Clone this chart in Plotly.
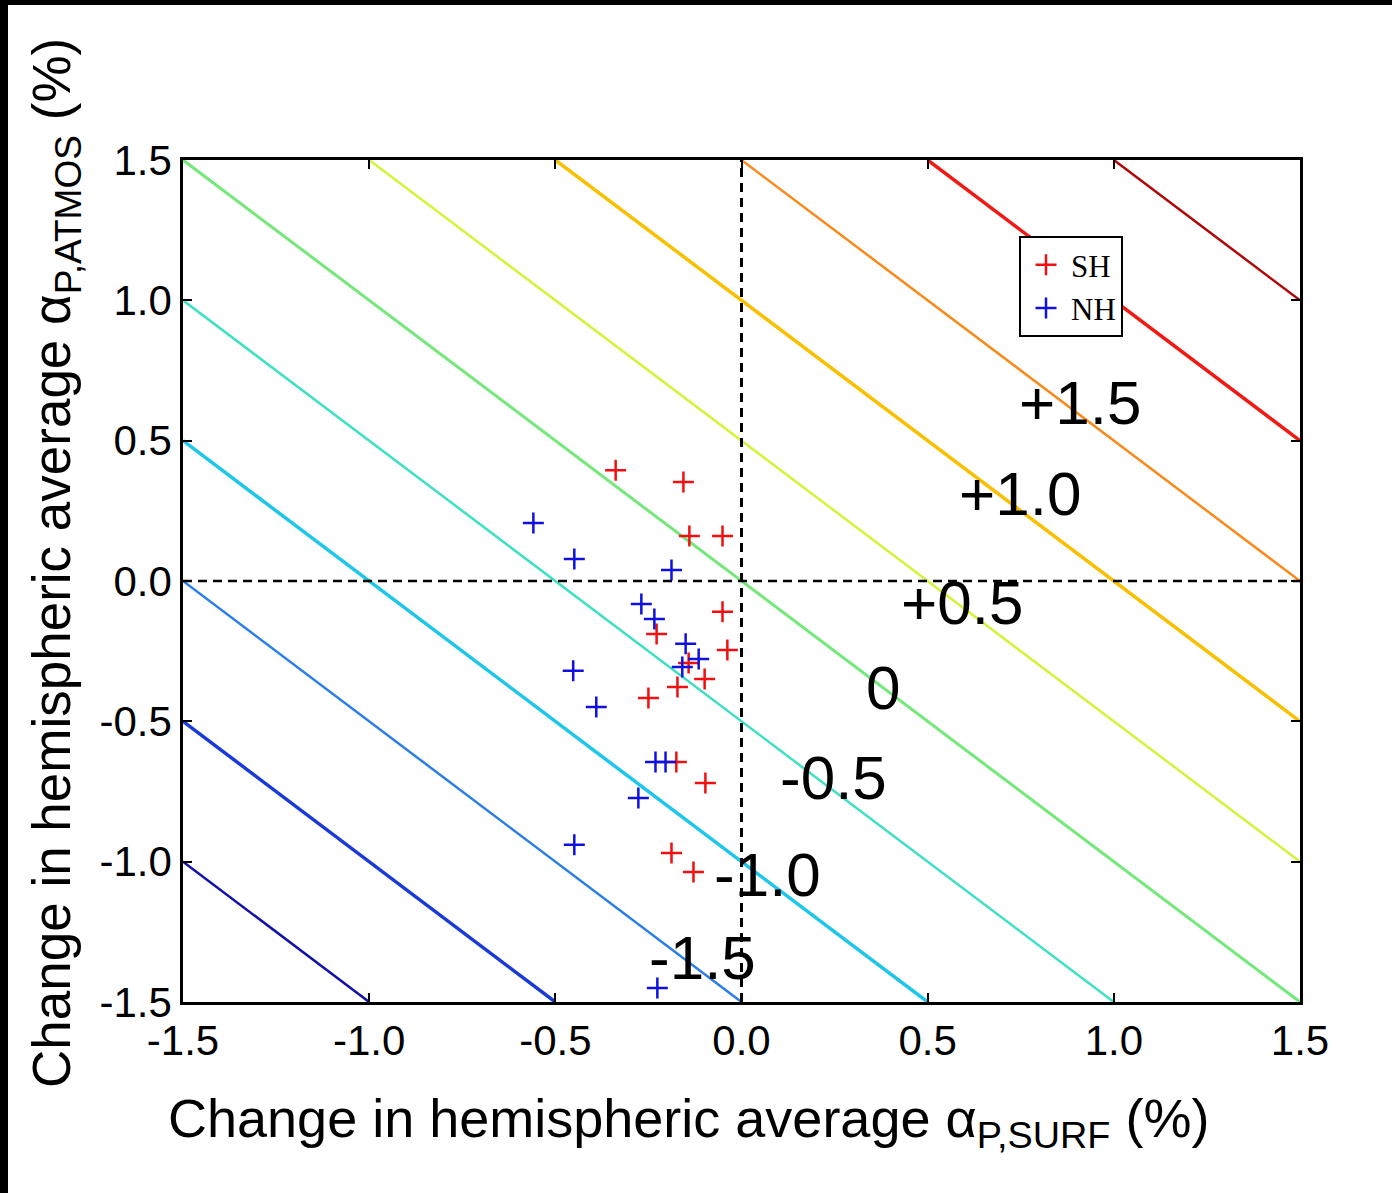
import plotly.graph_objects as go

# ---- data ----
levels = [-2.5, -2.0, -1.5, -1.0, -0.5, 0.0, 0.5, 1.0, 1.5, 2.0, 2.5]
level_colors = ["#1010a8", "#1a3ad8", "#2a7ee6", "#1ec6ea", "#3ee0c4", "#74e87a",
                "#d6f23a", "#f8c000", "#f88a1c", "#f01a14", "#b00808"]
level_widths = [2.5, 3.5, 2.5, 3.5, 2.5, 3, 2.5, 3.5, 2.5, 3.5, 2.5]

label_text = ["+1.5", "+1.0", "+0.5", "0", "-0.5", "-1.0", "-1.5"]
label_x = [0.91, 0.747, 0.593, 0.379, 0.247, 0.070, -0.105]
label_y = [0.637, 0.310, -0.075, -0.378, -0.699, -1.044, -1.343]

sh_x = [-0.338, -0.156, -0.140, -0.051, -0.051, -0.228, -0.038, -0.142, -0.099,
        -0.172, -0.250, -0.175, -0.097, -0.188, -0.129]
sh_y = [0.395, 0.353, 0.160, 0.160, -0.110, -0.189, -0.246, -0.292, -0.349,
        -0.378, -0.417, -0.645, -0.720, -0.969, -1.037]

nh_x = [-0.559, -0.449, -0.188, -0.269, -0.234, -0.150, -0.115, -0.159, -0.452,
        -0.390, -0.231, -0.204, -0.277, -0.449, -0.226]
nh_y = [0.207, 0.078, 0.039, -0.082, -0.135, -0.224, -0.278, -0.306, -0.320,
        -0.449, -0.645, -0.645, -0.773, -0.940, -1.450]

tick_vals = [-1.5, -1.0, -0.5, 0.0, 0.5, 1.0, 1.5]
tick_text = ["-1.5", "-1.0", "-0.5", "0.0", "0.5", "1.0", "1.5"]

XMIN, XMAX = -1.5, 1.5

fig = go.Figure()

# contour lines x + y = c
for c, col, w in zip(levels, level_colors, level_widths):
    x0 = max(XMIN, c - XMAX)
    x1 = min(XMAX, c - XMIN)
    fig.add_trace(go.Scatter(x=[x0, x1], y=[c - x0, c - x1], mode="lines",
                             line=dict(color=col, width=w), showlegend=False,
                             hoverinfo="skip"))

# dashed zero lines
fig.add_trace(go.Scatter(x=[0, 0], y=[XMIN, XMAX], mode="lines",
                         line=dict(color="black", width=3, dash="9px,6px"),
                         showlegend=False, hoverinfo="skip"))
fig.add_trace(go.Scatter(x=[XMIN, XMAX], y=[0, 0], mode="lines",
                         line=dict(color="black", width=2.5, dash="9px,6px"),
                         showlegend=False, hoverinfo="skip"))

fig.add_trace(go.Scatter(x=sh_x, y=sh_y, mode="markers", name="SH",
                         marker=dict(symbol="cross-thin", size=15,
                                     line=dict(color="#f01010", width=2.5))))
fig.add_trace(go.Scatter(x=nh_x, y=nh_y, mode="markers", name="NH",
                         marker=dict(symbol="cross-thin", size=15,
                                     line=dict(color="#1010e0", width=2.5))))

for t, x, y in zip(label_text, label_x, label_y):
    fig.add_annotation(x=x, y=y, text=t, showarrow=False,
                       font=dict(family="Liberation Sans, Arial", size=62, color="black"))

axis_common = dict(range=[XMIN, XMAX], tickvals=tick_vals, ticktext=tick_text,
                   showgrid=False, zeroline=False, showline=True, linecolor="black",
                   linewidth=2.5, mirror="ticks", ticks="inside", ticklen=9,
                   tickwidth=2, tickcolor="black",
                   tickfont=dict(family="Liberation Sans, Arial", size=42, color="black"))

fig.update_xaxes(**axis_common)
fig.update_yaxes(**axis_common)

W, H = 1392, 1193
L, R, T, B = 183, 92, 160, 191
pw, ph = W - L - R, H - T - B

def px(xp):
    return (xp - L) / pw

def py(yp):
    return (H - B - yp) / ph

# axis titles
fig.add_annotation(xref="paper", yref="paper", x=px(166), y=py(1122), xanchor="left",
                   yanchor="middle", showarrow=False,
                   text="Change in hemispheric average α<sub>P,SURF</sub> (%)",
                   font=dict(family="Liberation Sans, Arial", size=54, color="black"))
fig.add_annotation(xref="paper", yref="paper", x=px(55), y=py(1090), xanchor="center",
                   yanchor="bottom", textangle=-90, showarrow=False,
                   text="Change in hemispheric average α<sub>P,ATMOS</sub> (%)",
                   font=dict(family="Liberation Sans, Arial", size=53, color="black"))

# black border strips of the original image
fig.add_shape(type="rect", xref="paper", yref="paper", x0=px(0), x1=px(W), y0=py(5), y1=py(0),
              fillcolor="black", line=dict(width=0), layer="above")
fig.add_shape(type="rect", xref="paper", yref="paper", x0=px(0), x1=px(8), y0=py(H), y1=py(0),
              fillcolor="black", line=dict(width=0), layer="above")

fig.update_layout(
    width=W, height=H,
    margin=dict(l=L, r=R, t=T, b=B, pad=0),
    plot_bgcolor="white", paper_bgcolor="white",
    legend=dict(x=px(1019), y=py(236), xanchor="left", yanchor="top",
                bordercolor="black", borderwidth=2, bgcolor="white",
                font=dict(family="Liberation Serif, Times New Roman", size=31, color="black"),
                itemwidth=40, tracegroupgap=0),
)

fig.write_html("out.html", config={"displayModeBar": False},
               post_script="document.body.style.margin='0';document.body.style.overflow='hidden';")
